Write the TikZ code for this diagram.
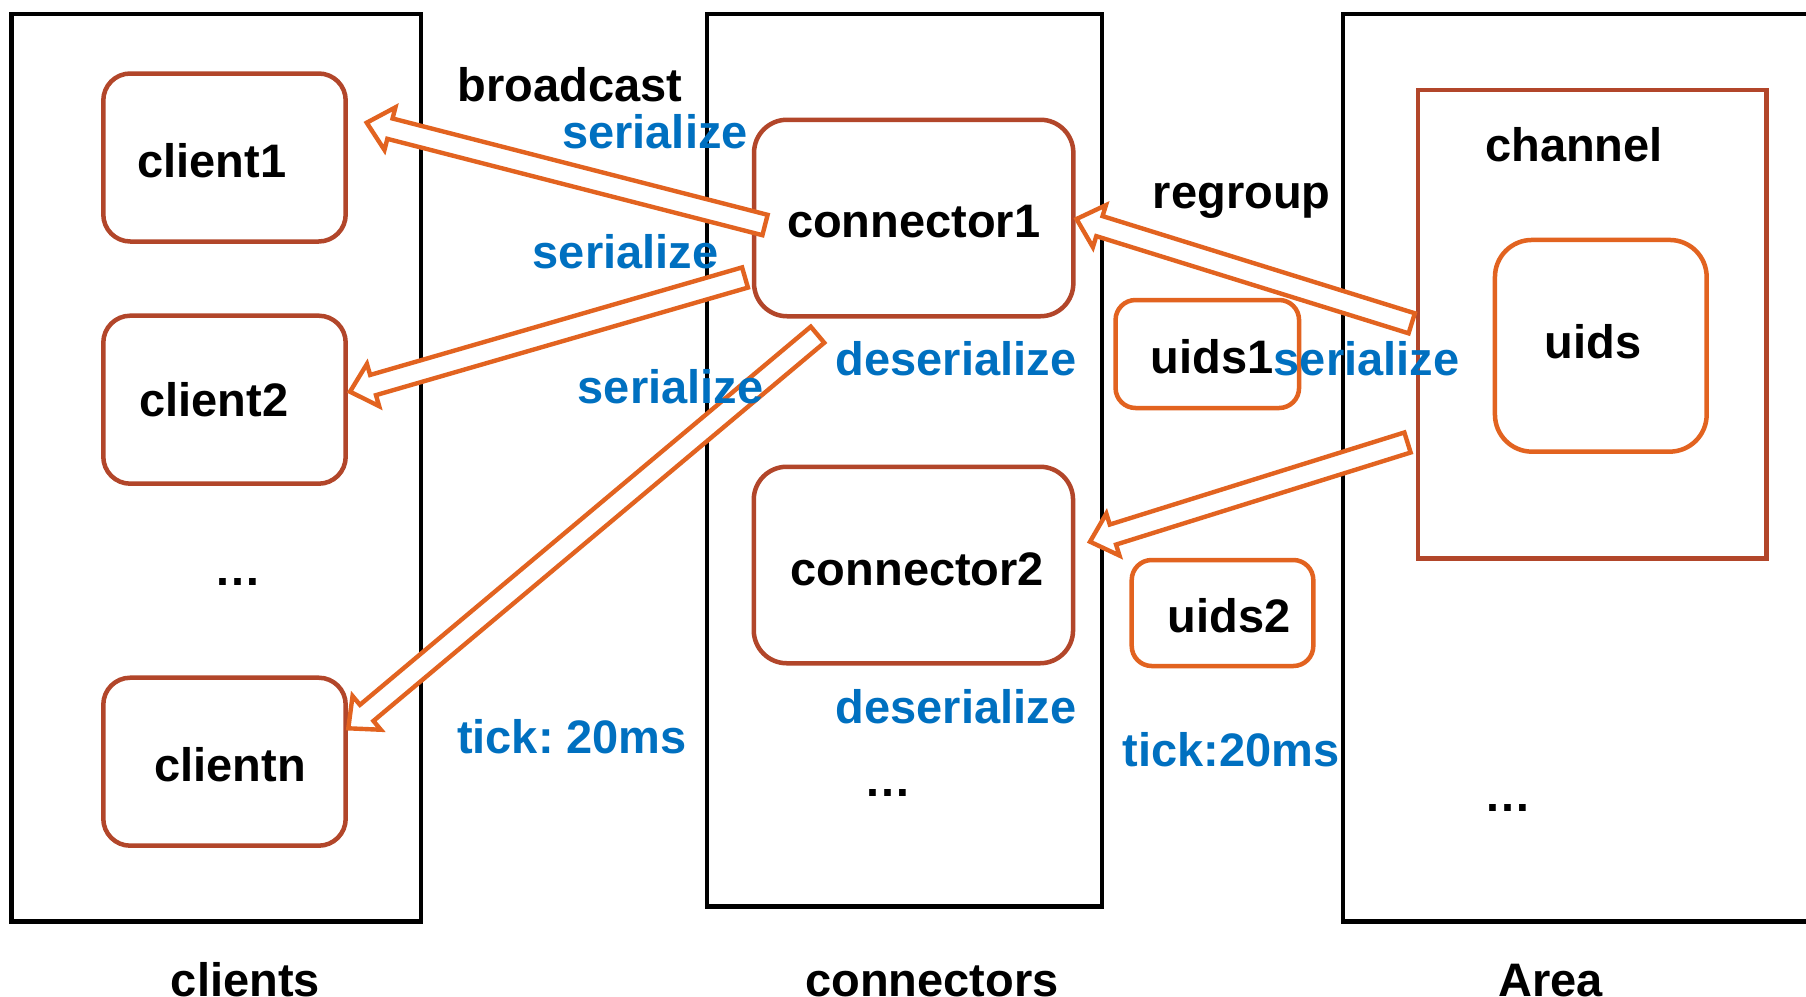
\documentclass[tikz,border=0pt]{standalone}
\usepackage{fontspec}
\setmainfont{Liberation Sans}
\usetikzlibrary{calc}
\frenchspacing

\definecolor{boxred}{RGB}{178,70,42}
\definecolor{flow}{RGB}{226,99,32}
\definecolor{tagblue}{RGB}{0,112,192}

% shift a box's text sideways by #1 pt
\newcommand{\nudge}[2]{\hspace*{#1pt}\hspace*{#1pt}#2}

% hollow block arrow from tail #1 to tip #2 (#3: prefix for the helper coordinate)
\newcommand{\blockarrow}[3]{%
  \coordinate (#3h) at ($(#2)!24pt!(#1)$);
  \draw[flowarrow]
    ($(#1)!10.5pt!90:(#2)$) --
    ($(#3h)!10.5pt!90:(#2)$) --
    ($(#3h)!22pt!90:(#2)$) --
    (#2) --
    ($(#3h)!22pt!-90:(#2)$) --
    ($(#3h)!10.5pt!-90:(#2)$) --
    ($(#1)!10.5pt!-90:(#2)$) -- cycle;
}

\tikzset{
  big/.style={font=\fontsize{47}{56}\selectfont\bfseries},
  panel/.style={draw=black, line width=4.3pt, rectangle, inner sep=0pt},
  boxtext/.style={big, inner sep=0pt, text height=39pt, text depth=0pt},
  client/.style={boxtext, draw=boxred, line width=4.5pt, rounded corners=27pt,
    minimum width=242.4pt, minimum height=168pt},
  conn/.style={boxtext, draw=boxred, line width=4.5pt, rounded corners=33pt,
    minimum width=319.3pt, minimum height=196.5pt},
  uidbox/.style={boxtext, draw=flow, line width=4.5pt, rounded corners=20pt},
  word/.style={big, anchor=base, inner sep=0pt},
  tag/.style={word, text=tagblue},
  flowarrow/.style={draw=flow, fill=white, line width=4.4pt, line join=miter},
}

\begin{document}
\begin{tikzpicture}[x=1pt, y=-1pt]
  \useasboundingbox (0,0) rectangle (1806,996);
  \clip (0,0) rectangle (1806,996);
  \fill[white] (0,0) rectangle (1806,996);

  % three columns
  \node[panel, minimum width=409.5pt, minimum height=907.7pt] (clients) at (216.25,467.65) {};
  \node[panel, minimum width=394.7pt, minimum height=892.7pt] (connectors) at (904.35,460.15) {};
  \node[panel, minimum width=486.7pt, minimum height=907.7pt] (area) at (1586.65,467.65) {};

  % clients
  \node[client] (cl1) at (224.5,157.5) {\nudge{-12.8}{client1}};
  \node[client, text height=34pt] (cl2) at (224.5,399.7) {\nudge{-10.5}{client2}};
  \node[client, text height=40pt] (cln) at (224.5,761.7) {\nudge{5.5}{clientn}};
  \node[word] (cdots) at (237.5,585.7) {…};

  % connectors
  \node[conn] (con1) at (913.7,218) {connector1};
  \node[conn, text height=40pt] (con2) at (913.4,565) {\nudge{4}{connector2}};
  \node[word] (kdots) at (887.5,796.7) {…};

  % area side
  \node[draw=boxred, line width=4.5pt, rectangle, inner sep=0pt,
        minimum width=348.7pt, minimum height=468.3pt] (channel) at (1592.35,324.15) {};
  \node[word] (chlabel) at (1574,161.7) {channel};
  \node[uidbox, rounded corners=37pt, minimum width=211.7pt, minimum height=211.7pt,
        text height=25pt] (uids) at (1600.8,345.8) {\nudge{-7.8}{uids}};
  \node[uidbox, minimum width=183.5pt, minimum height=108pt] (uids1) at (1207.3,354) {\nudge{4.7}{uids1}};
  \node[uidbox, minimum width=181.6pt, minimum height=106pt] (uids2) at (1222.5,613) {\nudge{6.5}{uids2}};
  \node[word] (adots) at (1507.5,811.7) {…};

  % arrow ends
  \coordinate (t1) at (765,225);     \coordinate (p1) at (366.7,122.7);
  \coordinate (t2) at (745,277.5);   \coordinate (p2) at (350,391.7);
  \coordinate (t3) at (817.5,334.7); \coordinate (p3) at (348.3,728.3);
  \coordinate (t4) at (1411.7,323.3);\coordinate (p4) at (1076.5,219);
  \coordinate (t5) at (1407.5,442.5);\coordinate (p5) at (1090,541.7);

  \blockarrow{t1}{p1}{a1}
  \blockarrow{t2}{p2}{a2}
  \blockarrow{t3}{p3}{a3}
  \blockarrow{t4}{p4}{a4}
  \blockarrow{t5}{p5}{a5}

  % labels
  \node[word] (bc) at (570,101.7) {broadcast};
  \node[tag] (s1) at (655,148.3) {serialize};
  \node[tag] (s2) at (625.5,268.3) {serialize};
  \node[tag] (s3) at (670.5,403.3) {serialize};
  \node[tag] (tk1) at (572,753) {tick: 20ms};
  \node[word] (rg) at (1241.7,208.3) {regroup};
  \node[tag] (ds1) at (956,375) {deserialize};
  \node[tag] (ds2) at (956,723.3) {deserialize};
  \node[tag] (s4) at (1366.5,375) {serialize};
  \node[tag] (tk2) at (1231,766.7) {tick:20ms};

  % column captions
  \node[word] (capc) at (245.4,996) {clients};
  \node[word] (capk) at (932,996) {connectors};
  \node[word] (capa) at (1550.7,996) {Area};
\end{tikzpicture}
\end{document}
